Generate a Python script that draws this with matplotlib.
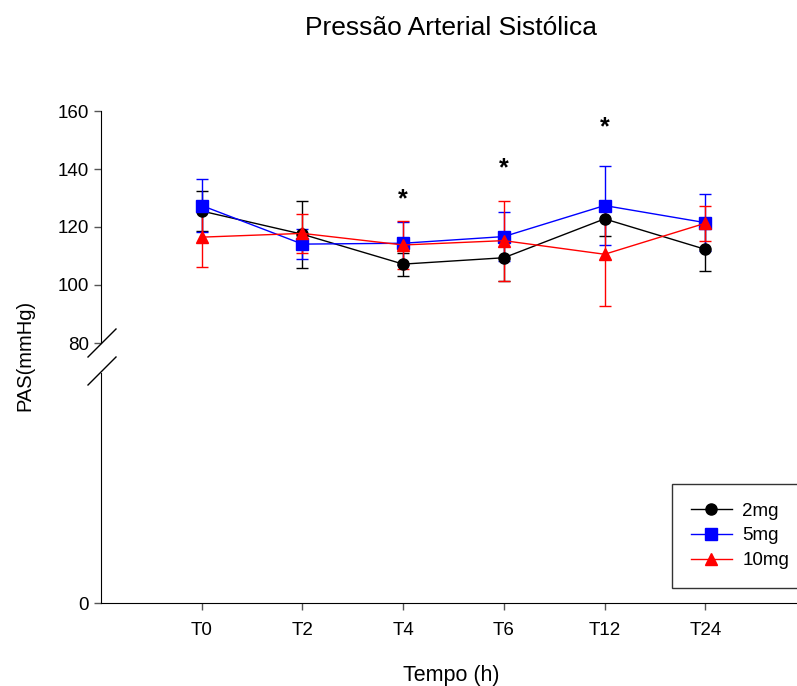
import numpy as np
import matplotlib
matplotlib.use("Agg")
import matplotlib.pyplot as plt
from matplotlib.lines import Line2D

plt.rcParams['font.family'] = ['Liberation Sans', 'DejaVu Sans']

# data
times = ['T0', 'T2', 'T4', 'T6', 'T12', 'T24']
pas_2mg = [125.5, 117.5, 107.2, 109.4, 122.8, 112.3]
err_2mg = [7.0, 11.5, 4.0, 8.0, 5.8, 7.4]
pas_5mg = [127.4, 114.1, 114.4, 116.7, 127.4, 121.5]
err_5mg = [9.0, 5.3, 7.4, 8.5, 13.7, 9.8]
pas_10mg = [116.5, 117.8, 113.8, 115.3, 110.6, 121.3]
err_10mg = [10.3, 6.6, 8.2, 13.8, 18.0, 6.1]
star_pos = [2, 3, 4]
star_y = [130, 141, 155]

W, H = 797, 686
fig = plt.figure(figsize=(W / 100, H / 100), dpi=100)

left = 101 / W
width = 700 / W
ax_top = fig.add_axes([left, 1 - 343 / H, width, (343 - 111) / H])
ax_bot = fig.add_axes([left, 1 - 603 / H, width, (603 - 373) / H])

x = np.arange(len(times))
series = [
    (pas_2mg, err_2mg, 'black', 'o', 8, '2mg'),
    (pas_5mg, err_5mg, 'blue', 's', 8, '5mg'),
    (pas_10mg, err_10mg, 'red', '^', 9, '10mg'),
]
handles = []
for vals, errs, col, mk, ms, lab in series:
    ax_top.errorbar(x, vals, yerr=errs, color=col, marker=mk, markersize=ms,
                    linewidth=1.0, elinewidth=1.0, capsize=4, capthick=1.0)
    handles.append(Line2D([], [], color=col, marker=mk, markersize=ms, linewidth=1.0, label=lab))

for sx, sy in zip(star_pos, star_y):
    ax_top.text(sx, sy - 0.6, '*', ha='center', va='center', fontsize=18, fontweight='bold')

for ax in (ax_top, ax_bot):
    ax.set_xlim(-1, 5.95)
    ax.spines['top'].set_visible(False)
    ax.spines['right'].set_visible(False)
    ax.tick_params(direction='out', length=5, width=1, labelsize=13.5, color='#555555')
    ax.patch.set_alpha(0)

ax_top.set_ylim(80, 160)
ax_top.set_yticks([80, 100, 120, 140, 160])
ax_top.spines['bottom'].set_visible(False)
ax_top.set_xticks([])

ax_bot.set_ylim(0, 80)
ax_bot.set_yticks([0])
ax_bot.set_xticks(x)
ax_bot.set_xticklabels(times)
ax_bot.tick_params(axis='x', pad=9)

# axis break marks
for y0 in (357, 385):
    fig.add_artist(Line2D([88 / W, 116 / W], [1 - y0 / H, 1 - (y0 - 28) / H],
                         color='black', linewidth=1.0))

ax_bot.legend(handles=handles, loc='upper left', bbox_to_anchor=(672 / W, 1 - 484 / H),
              bbox_transform=fig.transFigure, borderaxespad=0, fontsize=13.5,
              frameon=True, fancybox=False, edgecolor='black', handlelength=2.2,
              borderpad=1.0, labelspacing=0.4, handletextpad=0.55)
ax_bot.get_legend().get_frame().set_linewidth(1.0)

fig.text(451 / W, 1 - 28 / H, 'Pressão Arterial Sistólica', ha='center', va='center', fontsize=19)
fig.text(451 / W, 1 - 675 / H, 'Tempo (h)', ha='center', va='center', fontsize=15.5)
fig.text(25 / W, 1 - 355 / H, 'PAS(mmHg)', ha='center', va='center', rotation=90, fontsize=14.5)

fig.savefig('out.png', dpi=100)
